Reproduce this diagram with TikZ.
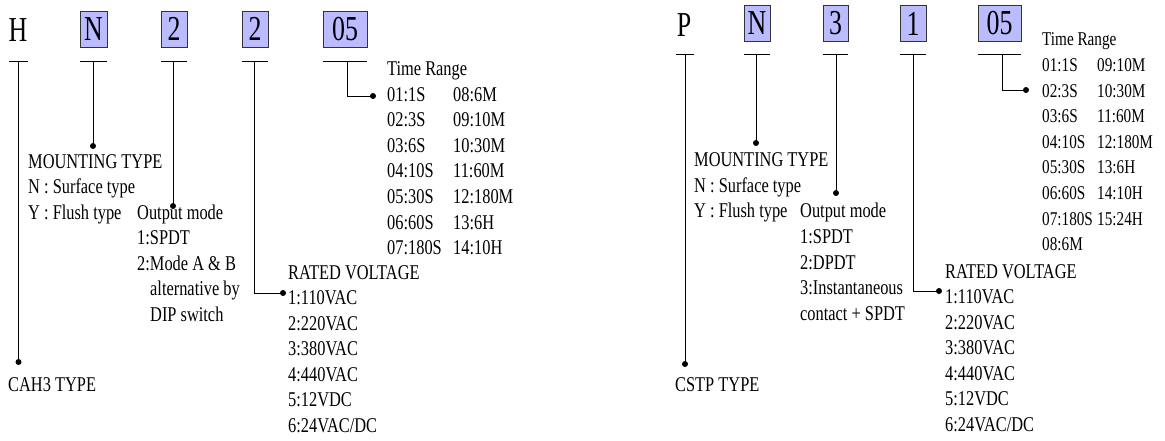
\documentclass[tikz,border=0pt]{standalone}
\usepackage{fontspec}
\setmainfont{Liberation Serif}[FakeStretch=0.78]
\newfontfamily\hdrfont{Liberation Serif}[FakeStretch=0.74]
\definecolor{boxblue}{RGB}{187,187,255}
\begin{document}
\begin{tikzpicture}[x=1pt,y=-1pt,
  txt/.style={anchor=base west,inner sep=0pt,font=\fontsize{21}{25.5}\selectfont},
  txts/.style={txt,font=\fontsize{19.5}{25.5}\selectfont},
  hdr/.style={inner sep=0pt,font=\hdrfont\fontsize{35}{35}\selectfont},
  box/.style={hdr,draw=black!80,fill=boxblue,line width=0.9pt,minimum height=36pt},
  ln/.style={line width=0.8pt,black},
  dot/.style={circle,fill=black,inner sep=0pt,minimum size=6pt}]
\useasboundingbox (0,0) rectangle (1165,441);

% ================= LEFT : CAH3 =================
\node[hdr] (lH) at (18,30) {H};
\node[box,minimum width=27pt] (lN) at (93.5,29) {N};
\node[box,minimum width=26pt] (lO) at (174,29) {2};
\node[box,minimum width=26pt] (lV) at (255,29) {2};
\node[box,minimum width=44pt] (lT) at (345,29) {05};

% bars
\coordinate (lHa) at (9,61);   \coordinate (lHb) at (28,61);  \coordinate (lHm) at (18.5,61);
\coordinate (lNa) at (80,61);  \coordinate (lNb) at (107,61); \coordinate (lNm) at (93,61);
\coordinate (lOa) at (161,61); \coordinate (lOb) at (187,61); \coordinate (lOm) at (173,61);
\coordinate (lVa) at (242,61); \coordinate (lVb) at (268,61); \coordinate (lVm) at (254,61);
\coordinate (lTa) at (323,61); \coordinate (lTb) at (367,61); \coordinate (lTm) at (347,61);
\foreach \n in {lH,lN,lO,lV,lT} \draw[ln] (\n a) -- (\n b);

% dots
\node[dot] (dlH) at (18.5,362) {};
\node[dot] (dlN) at (93,146) {};
\node[dot] (dlO) at (173,206) {};
\node[dot] (dlV) at (283,293) {};
\node[dot] (dlT) at (373,96) {};
\coordinate (clV) at (254,293);
\coordinate (clT) at (347,96);

\draw[ln] (lHm) -- (dlH.center);
\draw[ln] (lNm) -- (dlN.center);
\draw[ln] (lOm) -- (dlO.center);
\draw[ln] (lVm) -- (clV) -- (dlV.center);
\draw[ln] (lTm) -- (clT) -- (dlT.center);

% texts
\node[txt] (lcah) at (8,391) {CAH3 TYPE};
\foreach \t [count=\i] in {MOUNTING TYPE,N : Surface type,Y : Flush type}
  \node[txt] (lm\i) at (28,{168+25.5*(\i-1)}) {\t};
\foreach \t [count=\i] in {Output mode,1:SPDT,2:Mode A \& B}
  \node[txt] (lo\i) at (137,{219+25.5*(\i-1)}) {\t};
\node[txt] (lo4) at (150,295.5) {alternative by};
\node[txt] (lo5) at (150,321) {DIP switch};
\foreach \t [count=\i] in {RATED VOLTAGE,1:110VAC,2:220VAC,3:380VAC,4:440VAC,5:12VDC,6:24VAC/DC}
  \node[txt] (lr\i) at (288,{279+25.5*(\i-1)}) {\t};
\node[txt] (ltr) at (387,76) {Time Range};
\foreach \t [count=\i] in {01:1S,02:3S,03:6S,04:10S,05:30S,06:60S,07:180S}
  \node[txt] (lta\i) at (387,{101.5+25.5*(\i-1)}) {\t};
\foreach \t [count=\i] in {08:6M,09:10M,10:30M,11:60M,12:180M,13:6H,14:10H}
  \node[txt] (ltb\i) at (453,{101.5+25.5*(\i-1)}) {\t};

% ================= RIGHT : CSTP =================
\node[hdr] (rP) at (684,25) {P};
\node[box,minimum width=26pt] (rN) at (757,23.5) {N};
\node[box,minimum width=25pt] (rO) at (835.5,23.5) {3};
\node[box,minimum width=26pt] (rV) at (913,23.5) {1};
\node[box,minimum width=43pt] (rT) at (999.5,23.5) {05};

\coordinate (rPa) at (676,54); \coordinate (rPb) at (694,54); \coordinate (rPm) at (685,54);
\coordinate (rNa) at (744,54); \coordinate (rNb) at (770,54); \coordinate (rNm) at (756,54);
\coordinate (rOa) at (823,54); \coordinate (rOb) at (848,54); \coordinate (rOm) at (836,54);
\coordinate (rVa) at (900,54); \coordinate (rVb) at (926,54); \coordinate (rVm) at (913,54);
\coordinate (rTa) at (978,54); \coordinate (rTb) at (1021,54); \coordinate (rTm) at (1002,54);
\foreach \n in {rP,rN,rO,rV,rT} \draw[ln] (\n a) -- (\n b);

\node[dot] (drP) at (685,364) {};
\node[dot] (drN) at (756,143) {};
\node[dot] (drO) at (836,193) {};
\node[dot] (drV) at (939,291) {};
\node[dot] (drT) at (1026,90) {};
\coordinate (crV) at (913,291);
\coordinate (crT) at (1002,90);

\draw[ln] (rPm) -- (drP.center);
\draw[ln] (rNm) -- (drN.center);
\draw[ln] (rOm) -- (drO.center);
\draw[ln] (rVm) -- (crV) -- (drV.center);
\draw[ln] (rTm) -- (crT) -- (drT.center);

\node[txt] (rcstp) at (675,391) {CSTP TYPE};
\foreach \t [count=\i] in {MOUNTING TYPE,N : Surface type,Y : Flush type}
  \node[txt] (rm\i) at (694,{167+25.5*(\i-1)}) {\t};
\foreach \t [count=\i] in {Output mode,1:SPDT,2:DPDT,3:Instantaneous,contact + SPDT}
  \node[txt] (ro\i) at (800,{218+25.5*(\i-1)}) {\t};
\foreach \t [count=\i] in {RATED VOLTAGE,1:110VAC,2:220VAC,3:380VAC,4:440VAC,5:12VDC,6:24VAC/DC}
  \node[txt] (rr\i) at (945,{278+25.5*(\i-1)}) {\t};
\node[txts] (rtr) at (1042,46) {Time Range};
\foreach \t [count=\i] in {01:1S,02:3S,03:6S,04:10S,05:30S,06:60S,07:180S,08:6M}
  \node[txts] (rta\i) at (1042,{72+25.5*(\i-1)}) {\t};
\foreach \t [count=\i] in {09:10M,10:30M,11:60M,12:180M,13:6H,14:10H,15:24H}
  \node[txts] (rtb\i) at (1097,{72+25.5*(\i-1)}) {\t};
\end{tikzpicture}
\end{document}
